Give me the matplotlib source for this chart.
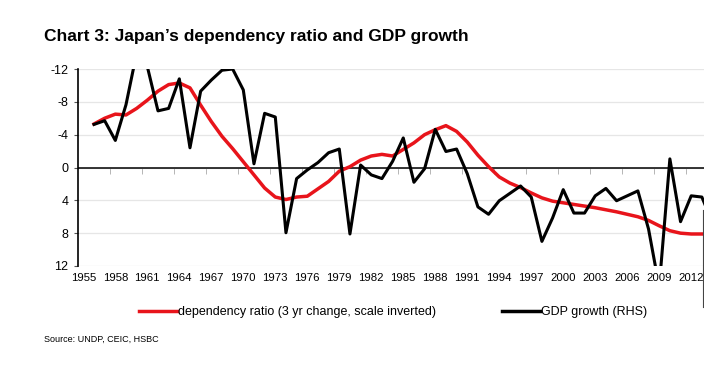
import matplotlib
matplotlib.use("Agg")
import matplotlib.pyplot as plt
from matplotlib.lines import Line2D

plt.rcParams['font.family'] = ['Liberation Sans', 'DejaVu Sans']

# data
years = list(range(1956, 2015))

# dependency ratio, 3 yr change (plotted on inverted left scale)
dependency = [-5.3, -6.0, -6.5, -6.4, -7.2, -8.2, -9.3, -10.1, -10.3, -9.7,
              -7.6, -5.6, -3.8, -2.3, -0.7, 0.9, 2.5, 3.6, 3.9, 3.6,
              3.5, 2.6, 1.7, 0.45, -0.1, -0.9, -1.4, -1.6, -1.4, -2.2,
              -3.0, -4.0, -4.6, -5.1, -4.4, -3.1, -1.5, -0.1, 1.15, 1.9,
              2.45, 3.1, 3.7, 4.1, 4.3, 4.5, 4.7, 4.9, 5.15, 5.4,
              5.7, 6.0, 6.45, 7.1, 7.7, 8.0, 8.1, 8.1, 8.1]

# GDP growth, % y/y (right-hand scale)
gdp_growth = [7.5, 7.8, 6.2, 9.1, 13.3, 12.2, 8.6, 8.8, 11.2, 5.6,
              10.2, 11.1, 11.9, 12.0, 10.3, 4.3, 8.4, 8.1, -1.3, 3.1,
              3.8, 4.4, 5.2, 5.5, -1.4, 4.2, 3.4, 3.1, 4.5, 6.4,
              2.8, 3.9, 7.1, 5.3, 5.5, 3.5, 0.8, 0.2, 1.3, 1.9,
              2.5, 1.6, -2.0, -0.1, 2.2, 0.3, 0.3, 1.7, 2.3, 1.3,
              1.7, 2.1, -1.0, -5.7, 4.7, -0.4, 1.7, 1.6, -0.5]

left_ticks = [-12, -8, -4, 0, 4, 8, 12]
label_years = list(range(1955, 2013, 3))

fig = plt.figure(figsize=(7.04, 3.74), dpi=100)
ax = fig.add_axes([78 / 704, 1 - 266 / 374, 1 - 78 / 704, 197 / 374])

ax.plot(years, dependency, color='#e8141b', lw=2.5, zorder=3,
        label='dependency ratio (3 yr change, scale inverted)')
ax.set_ylim(12, -12)
ax.set_xlim(1954.5, 2013.2)
ax.set_yticks(left_ticks)
ax.set_yticklabels([str(t) for t in left_ticks])
ax.yaxis.grid(True, color='#e6e6e6', lw=0.9)
ax.set_axisbelow(True)
ax.tick_params(axis='y', length=3, width=0.8, labelsize=9, pad=4, color='#555555')
ax.axhline(0, color='black', lw=1.1, zorder=2)

for s in ['top', 'right']:
    ax.spines[s].set_visible(False)
ax.spines['left'].set_linewidth(1.2)
ax.spines['bottom'].set_position(('data', 0))
ax.spines['bottom'].set_visible(False)

# tick marks between categories on the zero line
ax.set_xticks([1954.5 + 3 * k for k in range(1, 20)])
ax.tick_params(axis='x', length=4, width=0.6, color='#aaaaaa', labelbottom=False)

# category labels at the bottom
sec = ax.secondary_xaxis('bottom')
sec.set_xticks(label_years)
sec.set_xticklabels([str(y) for y in label_years])
sec.tick_params(length=0, pad=5, labelsize=8.2)
sec.spines['bottom'].set_visible(False)

ax2 = ax.twinx()
ax2.plot(years, gdp_growth, color='black', lw=2.2, zorder=4, label='GDP growth (RHS)')
ax2.set_ylim(-4, 12)
ax2.set_yticks([])
for s in ax2.spines.values():
    s.set_visible(False)

fig.text(44 / 704, 1 - 37 / 374, 'Chart 3: Japan\u2019s dependency ratio and GDP growth',
         fontsize=12.5, fontweight='bold', va='center', ha='left')

handles = [Line2D([], [], color='#e8141b', lw=2.5), Line2D([], [], color='black', lw=2.5)]
fig.legend(handles[:1], ['dependency ratio (3 yr change, scale inverted)'],
           loc='center left', bbox_to_anchor=(128 / 704, 1 - 312 / 374),
           frameon=False, fontsize=9, handlelength=3.0, handletextpad=0.1)
fig.legend(handles[1:], ['GDP growth (RHS)'],
           loc='center left', bbox_to_anchor=(491 / 704, 1 - 312 / 374),
           frameon=False, fontsize=9, handlelength=3.0, handletextpad=0.1)

fig.text(44 / 704, 1 - 339 / 374, 'Source: UNDP, CEIC, HSBC', fontsize=6.5,
         va='center', ha='left')

fig.add_artist(Line2D([703 / 704, 703 / 704], [1 - 210 / 374, 1 - 307 / 374],
                      transform=fig.transFigure, color='#444444', lw=0.8))

fig.savefig('out.png', dpi=100)
